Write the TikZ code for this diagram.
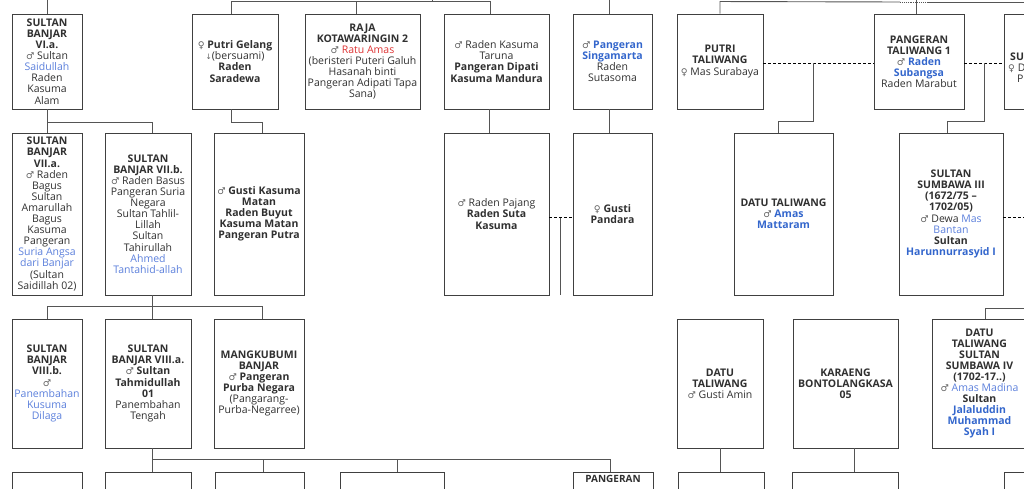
\documentclass[tikz,border=0pt]{standalone}
\usepackage{fontspec}
\setmainfont{Open Sans}
\newfontfamily\symfont{DejaVu Sans}
\usetikzlibrary{
  shapes,
}
\definecolor{textgray}{HTML}{303030}
\definecolor{symgray}{HTML}{606060}
\definecolor{boxgray}{HTML}{404040}
\definecolor{linegray}{HTML}{555555}
\definecolor{linkblue}{HTML}{3366CC}
\definecolor{linklight}{HTML}{5B7FDB}
\definecolor{linkred}{HTML}{DD3333}
\newcommand{\malesym}{{\symfont\color{symgray}\fontsize{9.3}{10}\selectfont ♂}}
\newcommand{\femalesym}{{\symfont\color{symgray}\fontsize{9.3}{10}\selectfont ♀}}
\newcommand{\downsym}{{\symfont\color{symgray}\fontsize{7.5}{10}\selectfont ↓}}
\tikzstyle{person} = [
rectangle,
draw=boxgray,
line width=0.95pt,
text=textgray,
align=center,
inner sep=1pt
]
\tikzstyle{row one} = [person, minimum height=95pt]
\tikzstyle{row two} = [person, minimum height=162pt]
\tikzstyle{row three} = [person, minimum height=129pt]
\tikzstyle{row four} = [person, minimum height=100pt]
\tikzstyle{link} = [draw=linegray, line width=0.9pt]
\tikzstyle{marriage} = [draw=black, line width=1pt, dash pattern=on 3pt off 2pt]

\begin{document}
\begin{tikzpicture}[x=1pt, y=-1pt, font=\fontsize{10.5}{11.1}\selectfont]
  \useasboundingbox (0,0) rectangle (1024,489);
  % Place nodes
  \node [row one, minimum width=70pt] (vi_a) at (47,61.5) {\textbf{SULTAN}\\\textbf{BANJAR}\\\textbf{VI.a.}\\\malesym{} Sultan\\{\color{linklight}Saidullah}\\Raden\\Kasuma\\Alam};
  \node [row one, minimum width=86pt] (gelang) at (235,61.5) {\femalesym{} \textbf{Putri Gelang}\\\downsym(bersuami)\\\textbf{Raden}\\\textbf{Saradewa}};
  \node [row one, minimum width=115pt] (kotawaringin) at (362.5,61.5) {\textbf{RAJA}\\\textbf{KOTAWARINGIN 2}\\\malesym{} {\color{linkred}Ratu Amas}\\(beristeri Puteri Galuh\\Hasanah binti\\Pangeran Adipati Tapa\\Sana)};
  \node [row one, minimum width=105pt] (taruna) at (496.5,61.5) {\malesym{} Raden Kasuma\\Taruna\\\textbf{Pangeran Dipati}\\\textbf{Kasuma Mandura}};
  \node [row one, minimum width=79pt] (singamarta) at (612.5,61.5) {\malesym{} \textbf{\color{linkblue}Pangeran}\\\textbf{\color{linkblue}Singamarta}\\Raden\\Sutasoma};
  \node [row one, minimum width=86pt] (putri_taliwang) at (720,61.5) {\textbf{PUTRI}\\\textbf{TALIWANG}\\\femalesym{} Mas Surabaya};
  \node [row one, minimum width=90pt] (taliwang1) at (919,61.5) {\textbf{PANGERAN}\\\textbf{TALIWANG 1}\\\malesym{} \textbf{\color{linkblue}Raden}\\\textbf{\color{linkblue}Subangsa}\\Raden Marabut};
  \node [row one, minimum width=86pt] (sumbawa_ii) at (1047,61.5) {};
  \node [anchor=west, align=left, inner sep=0pt, text=textgray] (sumbawa_ii_text) at (1008,68) {\hspace*{2pt}\textbf{SU}\\\femalesym{} D\\\hspace*{9pt}Pa};

  \node [row two, minimum width=70pt] (vii_a) at (47,214) {\textbf{SULTAN}\\\textbf{BANJAR}\\\textbf{VII.a.}\\\malesym{} Raden\\Bagus\\Sultan\\Amarullah\\Bagus\\Kasuma\\Pangeran\\{\color{linklight}Suria Angsa}\\{\color{linklight}dari Banjar}\\(Sultan\\Saidillah 02)};
  \node [row two, minimum width=86pt] (vii_b) at (148,214) {\textbf{SULTAN}\\\textbf{BANJAR VII.b.}\\\malesym{} Raden Basus\\Pangeran Suria\\Negara\\Sultan Tahlil-\\Lillah\\Sultan\\Tahirullah\\{\color{linklight}Ahmed}\\{\color{linklight}Tantahid-allah}};
  \node [row two, minimum width=90pt] (kasuma_matan) at (259,214) {\malesym{} \textbf{Gusti Kasuma}\\\textbf{Matan}\\\textbf{Raden Buyut}\\\textbf{Kasuma Matan}\\\textbf{Pangeran Putra}};
  \node [row two, minimum width=105pt] (pajang) at (496.5,214) {\malesym{} Raden Pajang\\\textbf{Raden Suta}\\\textbf{Kasuma}};
  \node [row two, minimum width=79pt] (pandara) at (612.5,214) {\femalesym{} \textbf{Gusti}\\\textbf{Pandara}};
  \node [row two, minimum width=99pt] (amas_mattaram) at (783.5,214) {\textbf{DATU TALIWANG}\\\malesym{} \textbf{\color{linkblue}Amas}\\\textbf{\color{linkblue}Mattaram}};
  \node [row two, minimum width=104pt] (sumbawa_iii) at (951,214) {\textbf{SULTAN}\\\textbf{SUMBAWA III}\\\textbf{(1672/75 --}\\\textbf{1702/05)}\\\malesym{} Dewa {\color{linklight}Mas}\\{\color{linklight}Bantan}\\\textbf{Sultan}\\\textbf{\color{linkblue}Harunnurrasyid I}};

  \node [row three, minimum width=70pt] (viii_b) at (47,383.5) {\textbf{SULTAN}\\\textbf{BANJAR}\\\textbf{VIII.b.}\\\malesym\\{\color{linklight}Panembahan}\\{\color{linklight}Kusuma}\\{\color{linklight}Dilaga}};
  \node [row three, minimum width=86pt] (viii_a) at (148,383.5) {\textbf{SULTAN}\\\textbf{BANJAR VIII.a.}\\\malesym{} \textbf{Sultan}\\\textbf{Tahmidullah}\\\textbf{01}\\Panembahan\\Tengah};
  \node [row three, minimum width=90pt] (mangkubumi) at (259,383.5) {\textbf{MANGKUBUMI}\\\textbf{BANJAR}\\\malesym{} \textbf{Pangeran}\\\textbf{Purba Negara}\\(Pangarang-\\Purba-Negarree)};
  \node [row three, minimum width=86pt] (gusti_amin) at (720,383.5) {\textbf{DATU}\\\textbf{TALIWANG}\\\malesym{} Gusti Amin};
  \node [row three, minimum width=105pt] (bontolangkasa) at (845.5,383.5) {\textbf{KARAENG}\\\textbf{BONTOLANGKASA}\\\textbf{05}};
  \node [row three, minimum width=95pt] (sumbawa_iv) at (979.5,383.5) {\textbf{DATU}\\\textbf{TALIWANG}\\\textbf{SULTAN}\\\textbf{SUMBAWA IV}\\\textbf{(1702-17..)}\\\malesym{} {\color{linklight}Amas Madina}\\\textbf{Sultan}\\\textbf{\color{linkblue}Jalaluddin}\\\textbf{\color{linkblue}Muhammad}\\\textbf{\color{linkblue}Syah I}};

  \node [row four, minimum width=70pt] (r4_a) at (47,522) {};
  \node [row four, minimum width=86pt] (r4_b) at (148,522) {};
  \node [row four, minimum width=89pt] (r4_c) at (259.5,522) {};
  \node [row four, minimum width=104pt] (r4_d) at (392,522) {};
  \node [row four, minimum width=80pt] (r4_e) at (613,522) {};
  \node [font=\bfseries, anchor=north, text=textgray] (r4_e_text) at (r4_e.north) {PANGERAN};
  \node [row four, minimum width=86pt] (r4_f) at (721,522) {};
  \node [row four, minimum width=106pt] (r4_g) at (845.5,522) {};
  \node [row four, minimum width=86pt] (r4_h) at (1047,522) {};

  % Draw edges
  \coordinate (top_b) at (432,0);
  \coordinate (wed_a) at (813,63.5);
  \coordinate (wed_b) at (984,63.5);
  \coordinate (off_r) at (1024,217.5);
  \coordinate (off_s) at (1024,308);
  \path [link] (vi_a.north) -- ++(0,-14);
  \path [link] ([xshift=-4pt]gelang.north) -- ++(0,-12) -| ([xshift=-6.5pt]taruna.north);
  \path [link] ([xshift=-6.5pt]kotawaringin.north) -- ++(0,-12);
  \path [link] (top_b) -- ++(0,2);
  \path [link] ([xshift=-3.5pt]singamarta.north) -- ++(0,-14);
  \path [link] (putri_taliwang.north) -- ++(0,-12) -- (900,2);
  \path [link, densely dotted] (900,2) -- (928,2);
  \path [link] (928,2) -- (1024,2);
  \path [link] ([xshift=-3pt]taliwang1.north) -- ++(0,-14);

  % marriages
  \path [marriage] (putri_taliwang.east |- wed_a) -- (taliwang1.west |- wed_a);
  \path [link] (wed_a) -- ++(0,57.5) -| ([xshift=-5.5pt]amas_mattaram.north);
  \path [marriage] (taliwang1.east |- wed_b) -- (sumbawa_ii.west |- wed_b);
  \path [link] (wed_b) -- ++(0,57.5) -| ([xshift=-4pt]sumbawa_iii.north);
  \path [marriage] ([yshift=-3.5pt]pajang.east) -- coordinate[pos=0.46] (wed_c) ([yshift=-3.5pt]pandara.west);
  \path [link] (wed_c) -- (wed_c |- pandara.south);
  \path [marriage] (sumbawa_iii.east |- off_r) -- (off_r);

  % children
  \path [link] (vi_a.south) -- (vii_a.north);
  \path [link] (vi_a.south) ++(0,13) -| ([xshift=4pt]vii_b.north);
  \path [link] ([xshift=-4pt]gelang.south) -- ++(0,13) -| ([xshift=3pt]kasuma_matan.north);
  \path [link] ([xshift=-7.5pt]taruna.south) -- ([xshift=-7.5pt]pajang.north);
  \path [link] ([xshift=-3.5pt]singamarta.south) -- ([xshift=-3.5pt]pandara.north);

  \path [link] ([xshift=4pt]vii_b.south) -- ([xshift=4pt]viii_a.north);
  \path [link] (viii_b.north) -- ++(0,-12) -| ([xshift=3pt]mangkubumi.north);

  \path [link] ([xshift=4pt]viii_a.south) -- ([xshift=4pt]r4_b.north);
  \path [link] ([xshift=4pt]r4_b.north) ++(0,-12) -| ([xshift=-3pt]r4_e.north);
  \path [link] ([xshift=3.5pt]r4_c.north) -- ++(0,-12);
  \path [link] ([xshift=5pt]r4_d.north) -- ++(0,-12);
  \path [link] (gusti_amin.south) -- ([xshift=-1pt]r4_f.north);
  \path [link] ([xshift=8.5pt]bontolangkasa.south) -- ([xshift=8.5pt]r4_g.north);
  \path [link] ([xshift=5.5pt]sumbawa_iv.north) |- (off_s);

\end{tikzpicture}
\end{document}
